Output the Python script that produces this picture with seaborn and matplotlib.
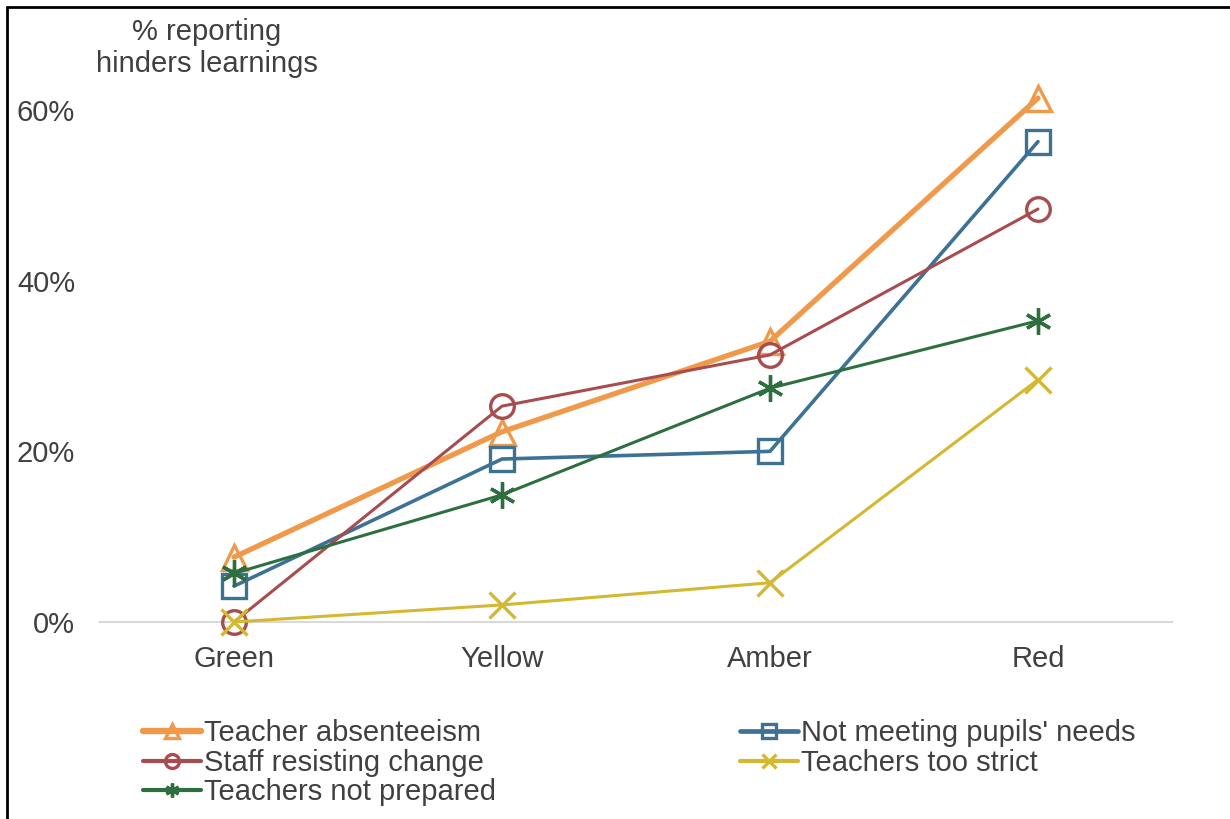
import matplotlib
matplotlib.use("Agg")
import matplotlib.pyplot as plt
from matplotlib.lines import Line2D
from matplotlib.ticker import PercentFormatter
import seaborn as sns

# RAG rating of the school
categories = ["Green", "Yellow", "Amber", "Red"]

# Share of respondents reporting that each factor hinders learning (%)
teacher_absenteeism = [7.6, 22.3, 32.9, 61.4]
not_meeting_needs = [4.2, 19.1, 20.0, 56.3]
staff_resisting_change = [0.0, 25.3, 31.3, 48.4]
teachers_too_strict = [0.0, 2.0, 4.6, 28.4]
teachers_not_prepared = [5.7, 14.9, 27.4, 35.3]

series_labels = [
    "Teacher absenteeism",
    "Not meeting pupils' needs",
    "Staff resisting change",
    "Teachers too strict",
    "Teachers not prepared",
]
series_values = [
    teacher_absenteeism,
    not_meeting_needs,
    staff_resisting_change,
    teachers_too_strict,
    teachers_not_prepared,
]
colors = ["#F0994A", "#3D7294", "#A84C4F", "#D4B832", "#2E6F40"]
markers = ["^", "s", "o", "x", (6, 2, 0)]
widths = [3.8, 2.6, 2.2, 2.2, 2.2]
marker_sizes = [18, 17, 17, 19, 19]

sns.set_theme(style="white")
plt.rcParams["font.family"] = ["Liberation Sans", "DejaVu Sans"]
text_color = "#404040"
fs = 21

fig = plt.figure(figsize=(12.3, 8.19), dpi=100)
ax = fig.add_axes([100 / 1230, 1 - 622 / 819, (1172 - 100) / 1230, (622 - 24.7) / 819])

handles = []
for label, vals, c, m, lw, ms in zip(series_labels, series_values, colors,
                                      markers, widths, marker_sizes):
    sns.lineplot(
        x=categories, y=vals, ax=ax, color=c, linewidth=lw, marker=m,
        markersize=ms, markerfacecolor="none", markeredgecolor=c,
        markeredgewidth=2.4, sort=False, legend=False, clip_on=False,
    )
    handles.append(Line2D([], [], color=c, linewidth=lw + 0.8, marker=m,
                          markersize=10, markerfacecolor="none",
                          markeredgecolor=c, markeredgewidth=2.4,
                          label=label))

ax.set_xlim(-0.5, 3.5)
ax.set_ylim(0, 70)
ax.set_yticks([0, 20, 40, 60])
ax.yaxis.set_major_formatter(PercentFormatter(decimals=0))
ax.set_xlabel("")
ax.set_ylabel("")
for side in ["left", "right", "top"]:
    ax.spines[side].set_visible(False)
ax.spines["bottom"].set_color("#D9D9D9")
ax.spines["bottom"].set_linewidth(1.5)
ax.spines["bottom"].set_zorder(0)
ax.tick_params(axis="y", length=0, pad=18, labelsize=fs, labelcolor=text_color)
ax.tick_params(axis="x", length=0, pad=16.5, labelsize=fs, labelcolor=text_color)
ax.grid(False)

fig.text(207 / 1230, 1 - 48 / 819, "% reporting\nhinders learnings",
         ha="center", va="center", fontsize=fs, color=text_color,
         linespacing=1.2)

legend_kw = dict(frameon=False, fontsize=fs, handlelength=2.0,
                 handletextpad=0.08, labelspacing=0.06, borderaxespad=0,
                 borderpad=0, labelcolor=text_color)
fig.legend(handles=[handles[0], handles[2], handles[4]], loc="upper left",
           bbox_to_anchor=(143 / 1230, 1 - 719 / 819), **legend_kw)
fig.legend(handles=[handles[1], handles[3]], loc="upper left",
           bbox_to_anchor=(740 / 1230, 1 - 719 / 819), **legend_kw)

# Frame on the top and left edges
fig.add_artist(Line2D([7 / 1230, 7 / 1230], [0, 1 - 7 / 819],
                      transform=fig.transFigure, color="black", linewidth=2))
fig.add_artist(Line2D([7 / 1230, 1], [1 - 7 / 819, 1 - 7 / 819],
                      transform=fig.transFigure, color="black", linewidth=2))

fig.savefig("out.png", dpi=100, facecolor="white")
